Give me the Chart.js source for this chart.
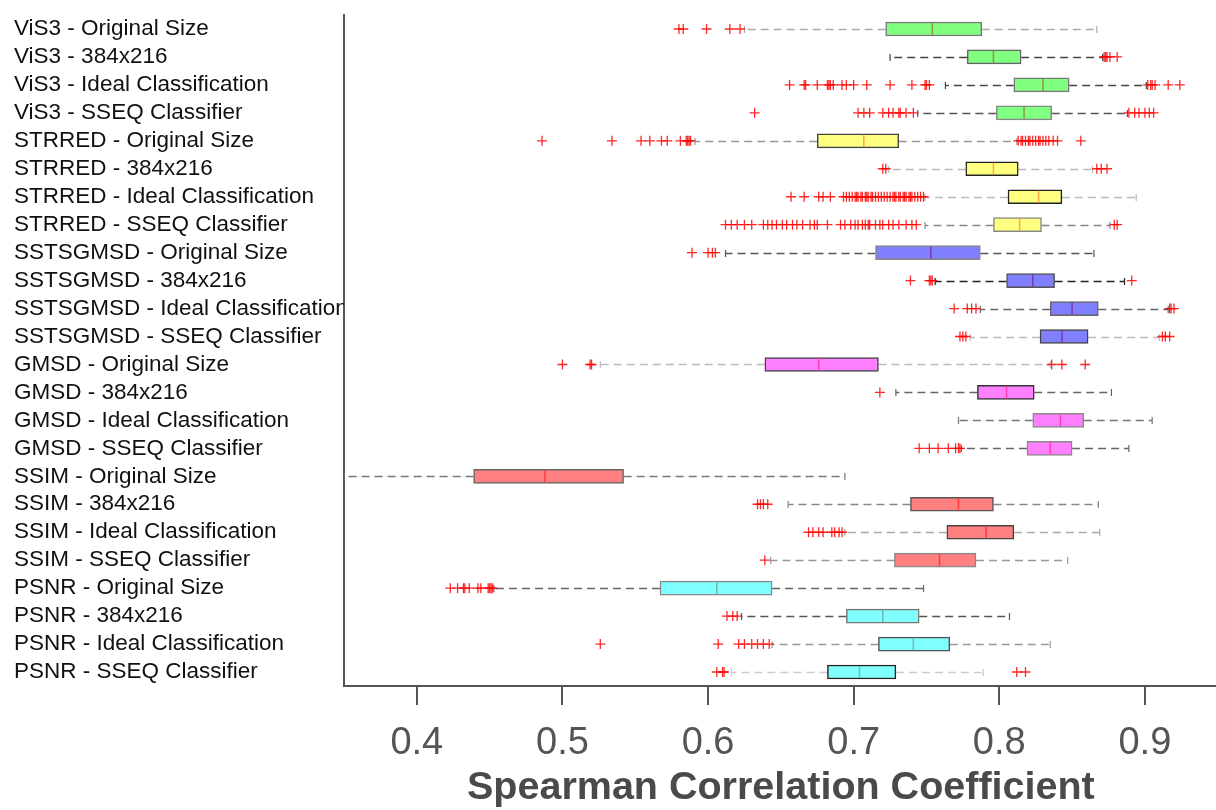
<!DOCTYPE html>
<html>
<head>
<meta charset="utf-8">
<script src="https://cdn.jsdelivr.net/npm/chart.js@4.4.1/dist/chart.umd.min.js"></script>
<style>
  html, body { margin: 0; padding: 0; background: #fff; overflow: hidden; }
  #wrap { position: relative; width: 1224px; height: 810px; }
</style>
</head>
<body>
<div id="wrap"><canvas id="chart"></canvas></div>
<script>
// categories, top to bottom
const categories = [
  "ViS3 - Original Size", "ViS3 - 384x216", "ViS3 - Ideal Classification", "ViS3 - SSEQ Classifier",
  "STRRED - Original Size", "STRRED - 384x216", "STRRED - Ideal Classification", "STRRED - SSEQ Classifier",
  "SSTSGMSD - Original Size", "SSTSGMSD - 384x216", "SSTSGMSD - Ideal Classification", "SSTSGMSD - SSEQ Classifier",
  "GMSD - Original Size", "GMSD - 384x216", "GMSD - Ideal Classification", "GMSD - SSEQ Classifier",
  "SSIM - Original Size", "SSIM - 384x216", "SSIM - Ideal Classification", "SSIM - SSEQ Classifier",
  "PSNR - Original Size", "PSNR - 384x216", "PSNR - Ideal Classification", "PSNR - SSEQ Classifier"
];

// box plot statistics per row
const whiskerLow  = [0.625, 0.725, 0.763, 0.744, 0.591, 0.724, 0.749, 0.749, 0.612, 0.756, 0.787, 0.780,
                     0.526, 0.729, 0.772, 0.774, 0.350, 0.655, 0.694, 0.643, 0.453, 0.623, 0.644, 0.616];
const quart1      = [0.722, 0.778, 0.810, 0.798, 0.675, 0.777, 0.806, 0.796, 0.715, 0.805, 0.835, 0.828,
                     0.639, 0.785, 0.823, 0.819, 0.439, 0.739, 0.764, 0.728, 0.567, 0.695, 0.717, 0.682];
const medians     = [0.754, 0.796, 0.830, 0.817, 0.707, 0.796, 0.827, 0.814, 0.753, 0.823, 0.850, 0.843,
                     0.676, 0.805, 0.842, 0.835, 0.488, 0.772, 0.791, 0.759, 0.606, 0.720, 0.741, 0.704];
const quart3      = [0.788, 0.815, 0.848, 0.836, 0.731, 0.813, 0.843, 0.829, 0.787, 0.838, 0.868, 0.861,
                     0.717, 0.824, 0.858, 0.850, 0.542, 0.796, 0.810, 0.784, 0.644, 0.745, 0.766, 0.729];
const whiskerHigh = [0.867, 0.871, 0.901, 0.888, 0.812, 0.864, 0.894, 0.876, 0.865, 0.886, 0.916, 0.910,
                     0.835, 0.877, 0.905, 0.889, 0.694, 0.868, 0.869, 0.847, 0.748, 0.807, 0.835, 0.789];

const outliers = [
  [0.580, 0.583, 0.599, 0.615, 0.622],
  [0.872, 0.873, 0.874, 0.876, 0.881],
  [0.656, 0.666, 0.667, 0.675, 0.682, 0.683, 0.684, 0.686, 0.692, 0.695, 0.700, 0.709, 0.725, 0.740, 0.749, 0.750, 0.752,
   0.902, 0.904, 0.905, 0.907, 0.916, 0.924],
  [0.632, 0.703, 0.707, 0.711, 0.720, 0.724, 0.727, 0.731, 0.732, 0.736, 0.741,
   0.889, 0.893, 0.896, 0.900, 0.903, 0.906],
  [0.486, 0.534, 0.554, 0.560, 0.568, 0.572, 0.581, 0.585, 0.586, 0.587, 0.588,
   0.813, 0.815, 0.816, 0.818, 0.820, 0.821, 0.823, 0.825, 0.827, 0.828, 0.830, 0.832, 0.834, 0.837, 0.840, 0.856],
  [0.720, 0.722, 0.867, 0.870, 0.874],
  [0.657, 0.666, 0.676, 0.679, 0.684, 0.693, 0.695, 0.697, 0.699, 0.701, 0.702, 0.703, 0.705, 0.706, 0.708, 0.709,
   0.710, 0.712, 0.713, 0.715, 0.717, 0.719, 0.721, 0.723, 0.725, 0.727, 0.728, 0.729, 0.731, 0.732, 0.734, 0.735,
   0.736, 0.738, 0.739, 0.740, 0.742, 0.744, 0.746, 0.748],
  [0.612, 0.616, 0.620, 0.625, 0.630, 0.638, 0.641, 0.644, 0.647, 0.651, 0.654, 0.658, 0.661, 0.665, 0.670, 0.673,
   0.675, 0.682, 0.691, 0.694, 0.698, 0.701, 0.703, 0.706, 0.708, 0.710, 0.711, 0.715, 0.718, 0.720, 0.724, 0.727,
   0.731, 0.736, 0.740, 0.743, 0.879, 0.881],
  [0.589, 0.600, 0.603, 0.605],
  [0.739, 0.752, 0.753, 0.754, 0.891],
  [0.769, 0.778, 0.781, 0.784, 0.917, 0.918, 0.920],
  [0.773, 0.775, 0.777, 0.912, 0.914, 0.917],
  [0.500, 0.519, 0.520, 0.836, 0.843, 0.859],
  [0.718],
  [],
  [0.745, 0.752, 0.758, 0.765, 0.770, 0.772, 0.773],
  [],
  [0.634, 0.636, 0.638, 0.641],
  [0.669, 0.672, 0.676, 0.679, 0.685, 0.687, 0.690, 0.692],
  [0.639],
  [0.423, 0.428, 0.432, 0.433, 0.436, 0.442, 0.444, 0.449, 0.450, 0.451, 0.452],
  [0.613, 0.617, 0.620],
  [0.526, 0.607, 0.621, 0.625, 0.630, 0.634, 0.638, 0.642],
  [0.606, 0.610, 0.611, 0.812, 0.818]
];

const tickValues = [0.4, 0.5, 0.6, 0.7, 0.8, 0.9];

// colours: one per metric group of four rows
const groupFill   = ["#80ff80", "#ffff80", "#8080ff", "#ff80ff", "#ff8080", "#80ffff"];
const groupMedian = ["#8f9a3c", "#ffa640", "#7a3aa8", "#ff3fb0", "#ff3b3b", "#6fb8b8"];
const lineShade = ["#aaa", "#444", "#444", "#555", "#999", "#bbb", "#bbb", "#888",
                   "#555", "#222", "#666", "#bbb", "#bbb", "#666", "#777", "#666",
                   "#777", "#888", "#aaa", "#999", "#666", "#555", "#999", "#ccc"];
const edgeShade = ["#777", "#666", "#777", "#888", "#444", "#222", "#222", "#888",
                   "#888", "#555", "#666", "#444", "#444", "#333", "#888", "#888",
                   "#666", "#555", "#444", "#888", "#888", "#777", "#555", "#222"];

const FONT = "'Liberation Sans', Arial, Helvetica, sans-serif";

// ðŸ§° whiskers, caps and median lines drawn through the chart's scales
const boxPlotLines = {
  id: "boxPlotLines",
  beforeDatasetsDraw(chart) {
    const { ctx, chartArea, scales: { x, y } } = chart;
    ctx.save();
    ctx.beginPath();
    ctx.rect(chartArea.left, chartArea.top, chartArea.width, chartArea.height);
    ctx.clip();
    categories.forEach((c, i) => {
      const yc = Math.round(y.getPixelForValue(i)) + 0.5;
      const xl = x.getPixelForValue(whiskerLow[i]);
      const x1 = x.getPixelForValue(quart1[i]);
      const x3 = x.getPixelForValue(quart3[i]);
      const xh = x.getPixelForValue(whiskerHigh[i]);
      ctx.strokeStyle = lineShade[i];
      ctx.lineWidth = 1.6;
      ctx.setLineDash([8, 5]);
      ctx.beginPath();
      ctx.moveTo(x1, yc); ctx.lineTo(xl, yc);
      ctx.moveTo(x3, yc); ctx.lineTo(xh, yc);
      ctx.stroke();
      ctx.setLineDash([]);
      ctx.lineWidth = 1.2;
      ctx.beginPath();
      ctx.moveTo(xl, yc - 3.5); ctx.lineTo(xl, yc + 3.5);
      ctx.moveTo(xh, yc - 3.5); ctx.lineTo(xh, yc + 3.5);
      ctx.stroke();
    });
    ctx.restore();
  },
  afterDatasetsDraw(chart) {
    const { ctx, scales: { x, y } } = chart;
    ctx.save();
    ctx.lineWidth = 1.5;
    categories.forEach((c, i) => {
      const yc = y.getPixelForValue(i);
      const xm = x.getPixelForValue(medians[i]);
      ctx.strokeStyle = groupMedian[Math.floor(i / 4)];
      ctx.beginPath();
      ctx.moveTo(xm, yc - 6);
      ctx.lineTo(xm, yc + 6);
      ctx.stroke();
    });
    ctx.restore();
  }
};

const outlierPoints = [];
outliers.forEach((arr, i) => arr.forEach(v => outlierPoints.push({ x: v, y: categories[i] })));

new Chart(document.getElementById("chart"), {
  type: "bar",
  data: {
    labels: categories,
    datasets: [
      {
        label: "box",
        data: categories.map((c, i) => [quart1[i], quart3[i]]),
        backgroundColor: categories.map((c, i) => groupFill[Math.floor(i / 4)]),
        borderColor: edgeShade,
        borderWidth: 1.5,
        borderSkipped: false,
        barThickness: 14,
      },
      {
        type: "scatter",
        label: "outliers",
        data: outlierPoints,
        pointStyle: "cross",
        pointRadius: 5,
        pointBorderWidth: 1.3,
        borderColor: "rgba(255,0,0,0.85)",
        backgroundColor: "rgba(255,0,0,0.85)",
        showLine: false,
      },
    ],
  },
  options: {
    indexAxis: "y",
    responsive: true,
    maintainAspectRatio: false,
    animation: false,
    layout: { padding: { top: 15, left: 14, right: 1, bottom: 0 } },
    plugins: {
      legend: { display: false },
      tooltip: { enabled: false },
    },
    scales: {
      x: {
        type: "linear",
        min: 0.35,
        max: 0.95,
        afterBuildTicks: (s) => { s.ticks = tickValues.map(v => ({ value: v })); },
        afterFit: (s) => { s.height = 124; },
        grid: { display: true, drawOnChartArea: false, drawTicks: true, tickLength: 19, color: "#555", lineWidth: 2 },
        border: { display: true, color: "#555", width: 2 },
        ticks: {
          padding: 16,
          color: "#555",
          font: { family: FONT, size: 38 },
          callback: (v) => Number(v).toFixed(1),
        },
        title: {
          display: true,
          text: "Spearman Correlation Coefficient",
          color: "#4a4a4a",
          font: { family: FONT, size: 39.5, weight: "bold", lineHeight: 1 },
          padding: { top: 0, bottom: 2 },
        },
      },
      y: {
        type: "category",
        offset: true,
        afterFit: (s) => { s.width = 330; },
        grid: { display: true, drawOnChartArea: false, drawTicks: false },
        border: { display: true, color: "#555", width: 2 },
        ticks: {
          crossAlign: "far",
          padding: 0,
          color: "#111",
          autoSkip: false,
          font: { family: FONT, size: 22.5 },
        },
      },
    },
  },
  plugins: [boxPlotLines],
});
</script>
</body>
</html>
